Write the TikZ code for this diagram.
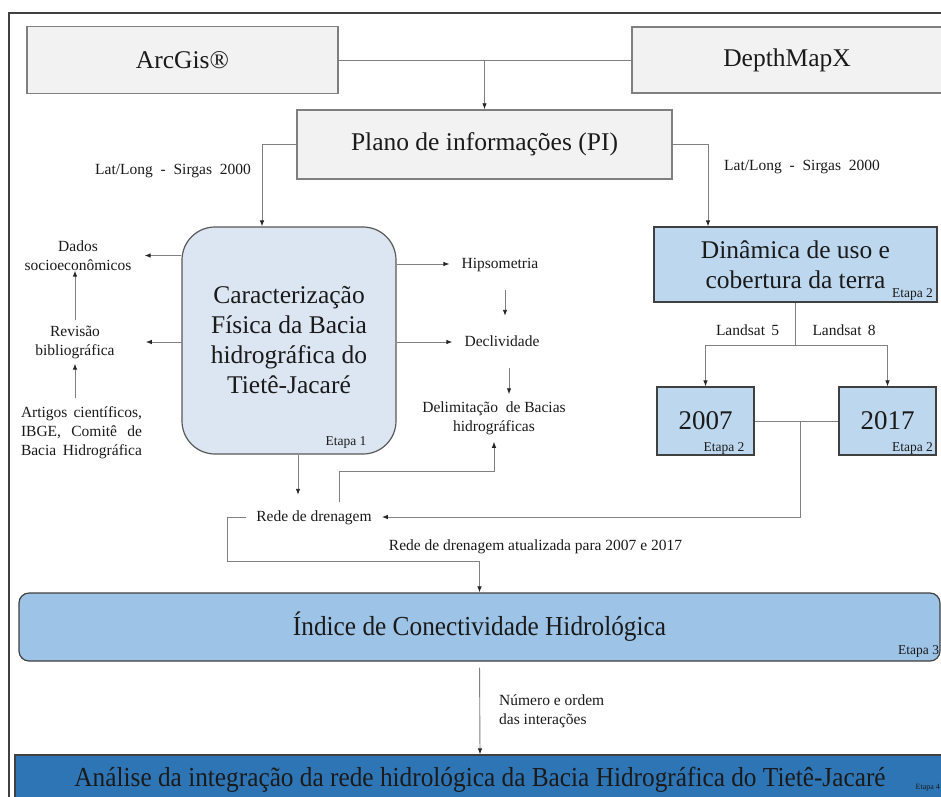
\documentclass[tikz,border=0pt]{standalone}
\usepackage{fontspec}
\setmainfont{Liberation Serif}
\newfontfamily\condfont[FakeStretch=0.92]{Liberation Serif}
\usetikzlibrary{arrows.meta,calc}
\definecolor{grayfill}{HTML}{F2F2F2}
\definecolor{grayline}{HTML}{7F7F7F}
\definecolor{carfill}{HTML}{DCE6F2}
\definecolor{carline}{HTML}{595959}
\definecolor{bluefill}{HTML}{BDD7EE}
\definecolor{blueline}{HTML}{404040}
\definecolor{indfill}{HTML}{9DC3E6}
\definecolor{anafill}{HTML}{2E75B6}
\definecolor{linegray}{HTML}{808080}
\definecolor{txt}{HTML}{1A1A1A}
\begin{document}
\begin{tikzpicture}[x=1pt,y=-1pt,
  every node/.style={text=txt},
  big/.style={font=\fontsize{25.5}{30}\selectfont},
  graybox/.style={big, draw=grayline, fill=grayfill, line width=1.5pt},
  bluebox/.style={big, draw=blueline, fill=bluefill, line width=1.2pt, align=center},
  carbox/.style={big, draw=carline, fill=carfill, line width=1.2pt, align=center, rounded corners=33pt},
  indbox/.style={font=\condfont\fontsize{27.5}{32}\selectfont, draw=blueline, fill=indfill, line width=1.2pt, rounded corners=10pt},
  anabox/.style={font=\condfont\fontsize{27.5}{32}\selectfont, draw=blueline, fill=anafill, line width=1.2pt},
  lbl/.style={font=\fontsize{15.5}{19}\selectfont, text height=11pt, text depth=3pt, inner sep=0pt},
  lbltwo/.style={font=\fontsize{15.5}{19}\selectfont, inner sep=0pt, align=center},
  etapa/.style={font=\fontsize{13.5}{16}\selectfont, inner sep=0pt},
  conn/.style={draw=linegray, line width=0.9pt},
  arr/.style={conn, -{Latex[length=6pt,width=4.5pt,color=black!85]}}
]
\path[use as bounding box] (0,0) rectangle (941,796);
\clip (0,0) rectangle (941,796);
\fill[white] (0,0) rectangle (941,796);
% outer frame
\draw[blueline, line width=1.2pt] (9,13) rectangle (960,820);

% top boxes
\node[graybox, minimum width=311pt, minimum height=67pt] (arc) at (182.5,60) {ArcGis®};
\node[graybox, minimum width=310pt, minimum height=66pt] (dmx) at (787,60) {DepthMapX};
\node[graybox, minimum width=375pt, minimum height=69pt] (pi) at (484.5,144.5) {Plano de informações (PI)};
\draw[conn] (arc.east) -- (dmx.west);
\draw[arr] (pi.north |- arc.east) -- (pi.north);

% Caracterizacao
\node[carbox, minimum width=214pt, minimum height=227pt] (car) at (289,340.5)
  {Caracterização\\Física da Bacia\\hidrográfica do\\Tietê-Jacaré};
\node[etapa] (e1) at (346,442) {Etapa 1};
\draw[arr] (pi.west) -| ([xshift=-27pt]car.north);
\node[lbl] (ll1) at (173,170) {Lat/Long\ \ -\ \ Sirgas\ \ 2000};

% Dinamica
\node[bluebox, minimum width=283pt, minimum height=75pt] (din) at (795.5,264.5)
  {Dinâmica de uso e\\cobertura da terra};
\node[etapa] (e2a) at (912.5,294) {Etapa 2};
\draw[arr] (pi.east) -| ([xshift=-87.5pt]din.north);
\node[lbl] (ll2) at (802,166) {Lat/Long\ \ -\ \ Sirgas\ \ 2000};

% years
\node[bluebox, font=\fontsize{27}{30}\selectfont, minimum width=97pt, minimum height=68pt] (y7) at (705.5,421) {2007};
\node[bluebox, font=\fontsize{27}{30}\selectfont, minimum width=97pt, minimum height=68pt] (y17) at (887.5,421) {2017};
\node[etapa] (e2b) at (724,448) {Etapa 2};
\node[etapa] (e2c) at (912.5,448) {Etapa 2};
\path (din.south) ++(0,43) coordinate (split);
\draw[conn] (din.south) -- (split);
\draw[arr] (split) -| (y7.north);
\draw[arr] (split) -| (y17.north);
\node[lbl] (ls5) at (747.5,331) {Landsat\hspace{0.4em}5};
\node[lbl] (ls8) at (844,331) {Landsat\hspace{0.4em}8};
\draw[conn] (y7.east) -- (y17.west);
\coordinate (j2) at (800,421);

% left column
\node[lbltwo, inner xsep=13pt, inner ysep=0pt] (dados) at (78,255.5) {Dados\\socioeconômicos};
\node[lbltwo, inner xsep=31pt, inner ysep=5pt] (rev) at (75,342) {Revisão\\bibliográfica};
\node[lbltwo, inner ysep=9pt] (art) at (81.5,433)
  {\makebox[121pt][s]{Artigos científicos,}\\\makebox[121pt][s]{IBGE, Comitê de}\\\makebox[121pt][s]{Bacia Hidrográfica}};
\draw[arr] (car.west |- dados.east) -- (dados.east);
\draw[arr] (car.west |- rev.east) -- (rev.east);
\draw[arr] (rev.north) -- (rev.north |- dados.south);
\draw[arr] (art.north -| rev.south) -- (rev.south);

% right column of Caracterizacao
\node[lbl, inner xsep=12pt, inner ysep=19pt] (hip) at (500,264) {Hipsometria};
\node[lbl, inner xsep=12pt, inner ysep=19pt] (decl) at (502,342) {Declividade};
\node[lbltwo, inner ysep=7pt] (delim) at (494,418) {Delimitação\ \ de Bacias\\hidrográficas};
\draw[arr] (car.east |- hip.west) -- (hip.west);
\draw[arr] (car.east |- decl.west) -- (decl.west);
\draw[arr] ([xshift=5pt]hip.south) -- ([xshift=3pt]decl.north);
\draw[arr] ([xshift=7pt]decl.south) -- ([xshift=15pt]delim.north);

% Rede de drenagem
\node[lbl, inner xsep=10pt, minimum height=30pt] (rede) at (314,517) {Rede de drenagem};
\draw[arr] ([xshift=9pt]car.south) -- ([xshift=-16pt,yshift=7pt]rede.north);
\draw[arr] ([xshift=25pt]rede.north) -- ++(0,-30) -| (delim.south);
\draw[arr] (j2) |- (rede.east);
\node[lbl] (upd) at (535.5,546) {Rede de drenagem atualizada para 2007 e 2017};

% Indice
\node[indbox, minimum width=921pt, minimum height=68pt] (ind) at (479.5,627) {Índice de Conectividade Hidrológica};
\node[etapa, anchor=west] (e3) at (898,651) {Etapa 3};
\draw[arr] (rede.west) -- ++(-19,0) |- ([yshift=31pt]ind.north) -- (ind.north);

% Analise
\node[anabox, minimum width=930pt, minimum height=50pt] (ana) at (480,780)
  {Análise da integração da rede hidrológica da Bacia Hidrográfica do Tietê-Jacaré};
\node[etapa, font=\fontsize{8}{10}\selectfont, anchor=west] (e4) at (915.5,788) {Etapa 4};
\draw[arr, shorten <=6pt] (ind.south) -- (ana.north);
\node[lbltwo, align=left, anchor=west] (num) at (499,711.5) {Número e ordem\\das interações};
\end{tikzpicture}
\end{document}
